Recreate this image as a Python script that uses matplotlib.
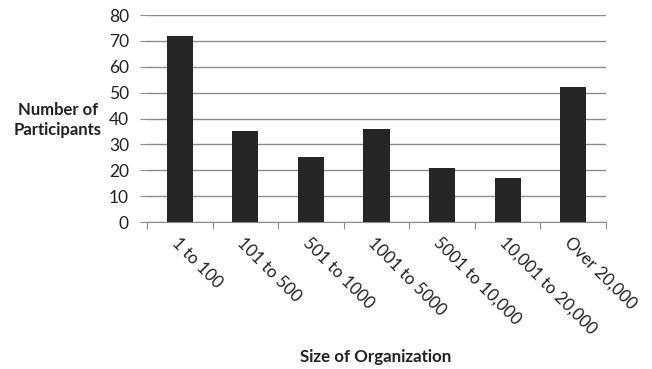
import numpy as np
import matplotlib.pyplot as plt

plt.rcParams['font.family'] = ['Lato', 'DejaVu Sans']

# participants by organization size
sizes = ['1 to 100', '101 to 500', '501 to 1000', '1001 to 5000',
         '5001 to 10,000', '10,001 to 20,000', 'Over 20,000']
participants = [72, 35, 25, 36, 21, 17, 52]
y_ticks = [0, 10, 20, 30, 40, 50, 60, 70, 80]

fig = plt.figure(figsize=(6.52, 3.69), dpi=100)
ax = fig.add_axes([147 / 652, 1 - 222 / 369, (606 - 147) / 652, (222 - 15) / 369])

x = np.arange(len(sizes))
ax.bar(x, participants, width=0.4, color='#262626', zorder=3)

ax.set_xlim(-0.5, len(sizes) - 0.5)
ax.set_ylim(0, 80)
ax.set_yticks(y_ticks)
ax.tick_params(axis='y', length=5, color='#8c8c8c', labelsize=12.5, pad=8, labelcolor='#222222')
ax.yaxis.grid(True, color='#8c8c8c', linewidth=1.0, zorder=0)

# ticks sit between categories, labels at category centres
ax.set_xticks(np.arange(len(sizes) + 1) - 0.5)
ax.set_xticks(x, minor=True)
ax.tick_params(axis='x', which='major', length=5, color='#8c8c8c', labelbottom=False)
ax.tick_params(axis='x', which='minor', length=0, pad=9)
ax.set_xticklabels(sizes, minor=True, rotation=-45, ha='left', va='top',
                   rotation_mode='anchor', fontsize=12.2, color='#222222')

for side in ['left', 'right', 'top']:
    ax.spines[side].set_visible(False)
ax.spines['bottom'].set_color('#8c8c8c')

fig.text(58 / 652, 1 - 120 / 369, 'Number of\nParticipants', ha='center', va='center',
         fontsize=12, fontweight='bold', color='#222222', linespacing=1.25)
fig.text(376 / 652, 1 - 357 / 369, 'Size of Organization', ha='center', va='center',
         fontsize=12.2, fontweight='bold', color='#222222')

fig.savefig('out.png', dpi=100)
